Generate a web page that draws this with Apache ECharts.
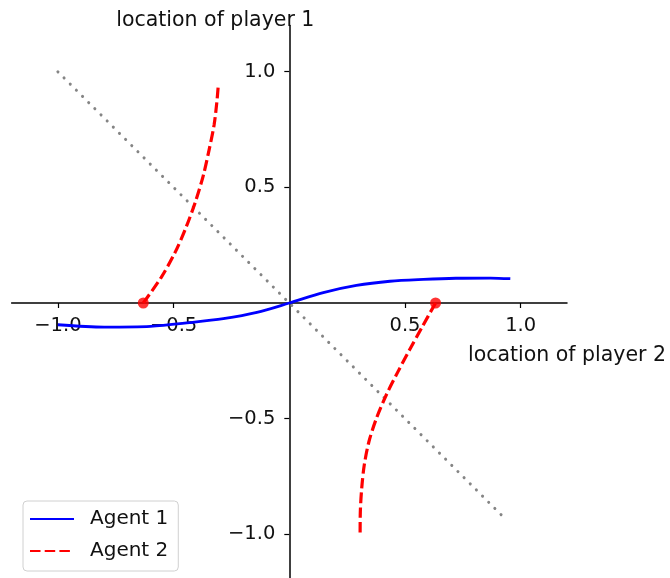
<!DOCTYPE html>
<html>
<head>
<meta charset="utf-8">
<script src="https://cdn.jsdelivr.net/npm/echarts@6/dist/echarts.min.js"></script>
<style>
  html, body { margin: 0; padding: 0; background: #fff; }
  #chart { width: 670px; height: 578px; }
</style>
</head>
<body>
<div id="chart"></div>
<script>
// tick positions and their labels (no label at 0)
const tickValues = [-1, -0.5, 0.5, 1]
const tickLabels = ['\u22121.0', '\u22120.5', '0.5', '1.0']

// Agent 1 trajectory
const agent1X = [-1.0, -0.8, -0.6, -0.43, -0.285, -0.14, 0, 0.147, 0.29, 0.435, 0.58, 0.72, 0.87, 0.955]
const agent1Y = [-0.094, -0.104, -0.101, -0.085, -0.068, -0.041, 0, 0.045, 0.076, 0.094, 0.102, 0.107, 0.108, 0.105]

// Agent 2 trajectory, two branches
const agent2UpperX = [-0.631, -0.554, -0.493, -0.445, -0.405, -0.372, -0.347, -0.325, -0.313, -0.307]
const agent2UpperY = [0, 0.11, 0.22, 0.33, 0.44, 0.55, 0.66, 0.77, 0.87, 0.94]
const agent2LowerX = [0.632, 0.576, 0.521, 0.468, 0.418, 0.376, 0.344, 0.324, 0.313, 0.307, 0.306]
const agent2LowerY = [0, -0.1, -0.2, -0.3, -0.4, -0.5, -0.6, -0.7, -0.8, -0.9, -1.0]

// start points of agent 2
const startX = [-0.631, 0.632]
const startY = [0, 0]

// diagonal y = -x
const diagonalX = [-1, 0.94]
const diagonalY = [1, -0.94]

const font = 'DejaVu Sans'

// grid box; both axes are shifted into the middle so they cross at 0
const gridLeft = 11.6
const gridTop = 25.5
const gridWidth = 555.4
const gridHeight = 555

function pairs(xs, ys) {
    return xs.map((x, i) => [x, ys[i]])
}

function tickText(v) {
    const n = Number(v)
    for (let i = 0; i < tickValues.length; i++) {
        if (Math.abs(tickValues[i] - n) < 1e-6) return tickLabels[i]
    }
    return ''
}

const chart = echarts.init(document.getElementById('chart'))

const axisCommon = {
    type: 'value',
    min: -1.2,
    max: 1.2,
    splitLine: { show: false },
    axisLine: { onZero: false, lineStyle: { color: '#000', width: 1.5 } },
    axisTick: {
        customValues: tickValues,
        length: 5,
        lineStyle: { color: '#000', width: 1.2 }
    },
    nameTextStyle: { fontFamily: font, fontSize: 20.5, color: '#111' }
}

const labelCommon = {
    customValues: tickValues,
    formatter: tickText,
    fontFamily: font,
    fontSize: 19.5,
    color: '#111'
}

chart.setOption({
    animation: false,
    grid: { left: gridLeft, top: gridTop, width: gridWidth, height: gridHeight, outerBoundsMode: 'none' },
    legend: {
        data: ['Agent 1', 'Agent 2'],
        orient: 'vertical',
        left: 23,
        top: 501,
        padding: [7, 10, 9, 6],
        itemWidth: 44,
        itemHeight: 14,
        itemGap: 10,
        itemStyle: { color: 'transparent', opacity: 0 },
        backgroundColor: '#fff',
        borderColor: '#d0d0d0',
        borderWidth: 1,
        borderRadius: 4,
        textStyle: {
            fontFamily: font,
            fontSize: 20,
            lineHeight: 22,
            color: '#111',
            padding: [0, 0, 0, 11]
        }
    },
    xAxis: Object.assign({}, axisCommon, {
        position: 'bottom',
        offset: -gridHeight / 2,
        name: 'location of player 2',
        nameLocation: 'end',
        nameGap: 0,
        nameTextStyle: Object.assign({}, axisCommon.nameTextStyle, {
            align: 'center',
            verticalAlign: 'top',
            padding: [42, 0, 0, 0]
        }),
        axisLabel: Object.assign({}, labelCommon, { margin: 13 })
    }),
    yAxis: Object.assign({}, axisCommon, {
        position: 'left',
        offset: -gridWidth / 2,
        name: 'location of player 1',
        nameLocation: 'end',
        nameGap: -6,
        nameTextStyle: Object.assign({}, axisCommon.nameTextStyle, {
            align: 'center',
            verticalAlign: 'bottom',
            padding: [0, 148, 0, 0]
        }),
        axisLabel: Object.assign({}, labelCommon, { margin: 14 })
    }),
    series: [
        {
            name: 'diagonal',
            type: 'line',
            data: pairs(diagonalX, diagonalY),
            symbol: 'none',
            lineStyle: { color: '#858585', width: 3, type: [0.1, 8.6], cap: 'round' },
            z: 2
        },
        {
            name: 'Agent 1',
            type: 'line',
            data: pairs(agent1X, agent1Y),
            symbol: 'none',
            smooth: 0.3,
            color: '#0000ff',
            lineStyle: { color: '#0000ff', width: 2.8 },
            z: 3
        },
        {
            name: 'Agent 2',
            type: 'line',
            data: pairs(agent2UpperX, agent2UpperY),
            symbol: 'none',
            smooth: 0.3,
            color: '#ff0000',
            lineStyle: { color: '#ff0000', width: 3.2, type: [10.5, 4.2] },
            z: 4
        },
        {
            name: 'Agent 2',
            type: 'line',
            data: pairs(agent2LowerX, agent2LowerY),
            symbol: 'none',
            smooth: 0.3,
            color: '#ff0000',
            lineStyle: { color: '#ff0000', width: 3.2, type: [10.5, 4.2] },
            z: 4
        },
        {
            name: 'start',
            type: 'scatter',
            data: pairs(startX, startY),
            symbol: 'circle',
            symbolSize: 11,
            itemStyle: { color: '#ff0000' },
            z: 5
        }
    ]
})
</script>
</body>
</html>
